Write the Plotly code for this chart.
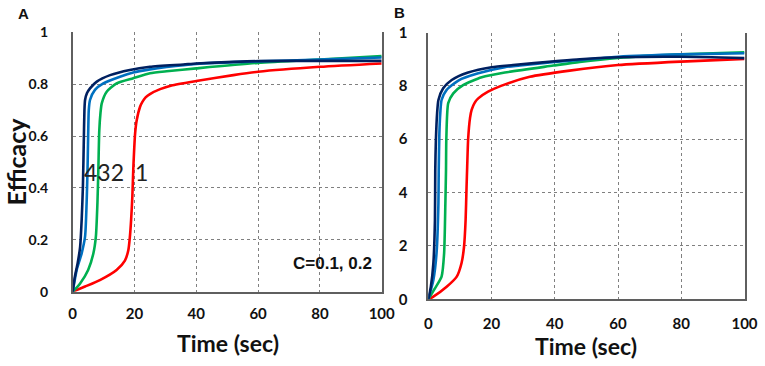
import plotly.graph_objects as go

# ---------------- data ----------------
# Panel A
a_navy_x = [0, 0.7, 1.6, 2.4, 2.9, 3.3, 3.6, 3.8, 4.0, 4.6, 5.6, 7.8, 12.1, 18.5, 25, 35.8, 40, 52, 60, 80, 100]
a_navy_y = [0, 0.058, 0.11, 0.173, 0.276, 0.405, 0.585, 0.70, 0.739, 0.765, 0.784, 0.81, 0.835, 0.855, 0.867, 0.876, 0.88, 0.886, 0.889, 0.89, 0.89]
a_blue_x = [0, 1.3, 2.9, 4.0, 4.5, 4.8, 5.0, 5.2, 5.6, 7.2, 9.9, 15.3, 19.6, 25, 30.4, 40, 60, 80, 100]
a_blue_y = [0, 0.084, 0.148, 0.212, 0.34, 0.47, 0.60, 0.70, 0.739, 0.778, 0.803, 0.829, 0.845, 0.857, 0.866, 0.878, 0.888, 0.895, 0.903]
a_green_x = [0, 2.4, 5, 6.7, 7.5, 8.0, 8.3, 8.6, 9.0, 9.4, 11, 14.2, 19.6, 25, 30.4, 40, 60, 80, 100]
a_green_y = [0, 0.032, 0.084, 0.148, 0.212, 0.34, 0.47, 0.62, 0.69, 0.726, 0.771, 0.803, 0.823, 0.842, 0.85, 0.861, 0.882, 0.895, 0.908]
a_red_x = [0, 4, 8.8, 14.2, 16.9, 18, 18.5, 18.9, 19.3, 19.6, 20.2, 20.7, 21.8, 22.6, 23.6, 25, 28.3, 32, 40, 52, 60, 80, 100]
a_red_y = [0, 0.02, 0.045, 0.084, 0.12, 0.16, 0.21, 0.276, 0.366, 0.47, 0.61, 0.66, 0.713, 0.733, 0.749, 0.762, 0.781, 0.795, 0.812, 0.835, 0.848, 0.867, 0.88]

# Panel B
b_navy_x = [0, 0.8, 1.6, 2.1, 2.2, 2.4, 2.8, 3.2, 4.7, 7.4, 12.6, 20, 26.8, 40, 47.9, 60, 80, 100]
b_navy_y = [0, 0.047, 0.135, 0.297, 0.485, 0.597, 0.70, 0.747, 0.791, 0.822, 0.85, 0.87, 0.878, 0.892, 0.9, 0.907, 0.909, 0.904]
b_blue_x = [0, 1.6, 2.6, 3.2, 3.3, 3.5, 3.8, 4.2, 5.8, 9.5, 15.8, 24.2, 29, 40, 47.9, 60, 80, 100]
b_blue_y = [0, 0.072, 0.172, 0.36, 0.485, 0.622, 0.70, 0.747, 0.785, 0.82, 0.847, 0.87, 0.876, 0.89, 0.897, 0.909, 0.918, 0.922]
b_green_x = [0, 2.1, 4.2, 5.0, 5.4, 5.6, 5.7, 6.3, 7.9, 11, 16.9, 24.2, 39.5, 47.9, 60, 80, 100]
b_green_y = [0, 0.041, 0.085, 0.172, 0.36, 0.485, 0.60, 0.735, 0.772, 0.803, 0.832, 0.85, 0.876, 0.89, 0.905, 0.918, 0.926]
b_red_x = [0, 1.6, 5.8, 9, 10.5, 11.3, 11.8, 12.1, 12.3, 12.6, 13.2, 13.7, 14.7, 15.8, 18.9, 23, 32.1, 44.7, 60, 80, 100]
b_red_y = [0, 0.01, 0.047, 0.085, 0.135, 0.197, 0.297, 0.422, 0.497, 0.6, 0.68, 0.71, 0.737, 0.753, 0.778, 0.80, 0.834, 0.857, 0.878, 0.891, 0.901]

x_ticks = [0, 20, 40, 60, 80, 100]
a_y_ticks = [0, 0.2, 0.4, 0.6, 0.8, 1]
a_y_ticktext = ["0", "0.2", "0.4", "0.6", "0.8", "1"]
b_y_ticks = [0, 0.2, 0.4, 0.6, 0.8, 1]
b_y_ticktext = ["0", "2", "4", "6", "8", "1"]

RED, GREEN, BLUE, NAVY = "#FF0000", "#00B050", "#0070C0", "#002060"

W, H = 765, 366


def px(x):
    return x / W


def py(y):
    return 1 - y / H


fig = go.Figure()

series_a = [(a_red_x, a_red_y, RED), (a_green_x, a_green_y, GREEN),
            (a_blue_x, a_blue_y, BLUE), (a_navy_x, a_navy_y, NAVY)]
series_b = [(b_red_x, b_red_y, RED), (b_green_x, b_green_y, GREEN),
            (b_blue_x, b_blue_y, BLUE), (b_navy_x, b_navy_y, NAVY)]

for xs, ys, c in series_a:
    fig.add_trace(go.Scatter(x=xs, y=ys, mode="lines",
                             line=dict(color=c, width=2.6, shape="spline", smoothing=0.6),
                             xaxis="x", yaxis="y", showlegend=False, hoverinfo="skip"))
for xs, ys, c in series_b:
    fig.add_trace(go.Scatter(x=xs, y=ys, mode="lines",
                             line=dict(color=c, width=2.6, shape="spline", smoothing=0.6),
                             xaxis="x2", yaxis="y2", showlegend=False, hoverinfo="skip"))

tickfont = dict(family="Lato", size=15, color="#111", weight="bold")
ytickfont = dict(family="Lato", size=14, color="#111", weight="bold")
grid = dict(showgrid=True, gridcolor="#808080", griddash="dot", gridwidth=1, zeroline=False)
line = dict(showline=True, linecolor="#5f5f5f", linewidth=1.5, automargin=False)

fig.update_layout(
    width=W, height=H,
    margin=dict(l=0, r=0, t=0, b=0, autoexpand=False),
    paper_bgcolor="white", plot_bgcolor="white",
    xaxis=dict(domain=[px(72.7), px(381.7)], range=[0, 100], tickvals=x_ticks,
               tickfont=tickfont, ticks="", ticklabelstandoff=8, mirror=False,
               anchor="y", **grid, **line),
    yaxis=dict(domain=[py(291.7), py(32.3)], range=[0, 1], tickvals=a_y_ticks,
               ticktext=a_y_ticktext, tickfont=ytickfont, ticks="", ticklabelstandoff=20,
               mirror=True, anchor="x", **grid, **line),
    xaxis2=dict(domain=[px(428.3), px(744.5)], range=[0, 100], tickvals=x_ticks,
                tickfont=tickfont, ticks="", ticklabelstandoff=10, mirror=False,
                anchor="y2", **grid, **line),
    yaxis2=dict(domain=[py(299.3), py(32.5)], range=[0, 1], tickvals=b_y_ticks,
                ticktext=b_y_ticktext, tickfont=tickfont, ticks="", ticklabelstandoff=16,
                mirror=True, anchor="x2", **grid, **line),
)

title_font = dict(family="Lato", size=23, color="#111", weight="bold")
ann = [
    dict(x=px(23.5), y=py(13.5), text="A", font=dict(family="Liberation Sans", size=15, color="#111", weight="bold")),
    dict(x=px(399), y=py(12), text="B", font=dict(family="Liberation Sans", size=15, color="#111", weight="bold")),
    dict(x=px(15), y=py(161.5), text="Efficacy", textangle=-90,
         font=dict(family="Lato", size=25, color="#111", weight="bold")),
    dict(x=px(228), y=py(343), text="Time (sec)", font=title_font),
    dict(x=px(586), y=py(346), text="Time (sec)", font=title_font),
    dict(x=px(82), y=py(172), text="432", xanchor="left",
         font=dict(family="Lato", size=23, color="#222")),
    dict(x=px(133), y=py(172), text="1", xanchor="left",
         font=dict(family="Lato", size=23, color="#222")),
    dict(x=px(332), y=py(263), text="C=0.1, 0.2",
         font=dict(family="Liberation Sans", size=17, color="#111", weight="bold")),
]
for a in ann:
    a.setdefault("xanchor", "center")
    a.update(xref="paper", yref="paper", showarrow=False, yanchor="middle")
    fig.add_annotation(**a)

fig.write_html("out.html", config={"displayModeBar": False},
               post_script="document.body.style.margin='0';document.body.style.padding='0';")
